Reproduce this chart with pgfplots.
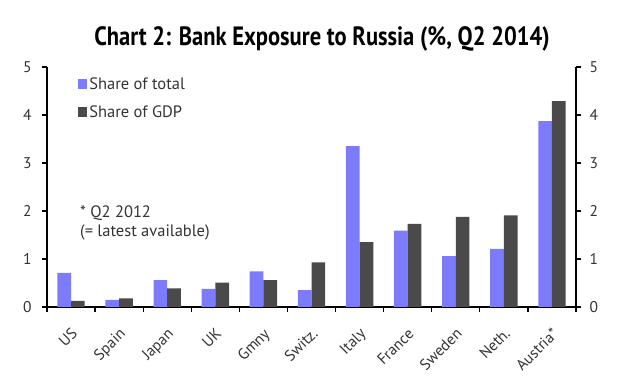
\documentclass[border=0pt]{standalone}
\usepackage{pgfplots}
\pgfplotsset{compat=1.18}
\usepackage{fontspec}
\setmainfont{PT Sans}
\newfontfamily\titlefont{PT Sans}[FakeStretch=0.85]
\definecolor{cblue}{HTML}{7C7CFA}
\definecolor{cdark}{HTML}{4A4A4A}
\begin{document}
\begin{tikzpicture}[x=1pt,y=1pt]
\path[use as bounding box] (0,0) rectangle (640,387);
\node[font=\titlefont\fontsize{26.5}{30}\selectfont\bfseries, anchor=base] at (322,341) {Chart 2: Bank Exposure to Russia (\%, Q2 2014)};
\begin{axis}[
  at={(47pt,80pt)}, anchor=south west,
  scale only axis, width=529pt, height=240pt,
  xmin=-0.5, xmax=10.5, ymin=0, ymax=5,
  ybar=0pt, bar width=13.7pt,
  axis x line*=bottom, axis y line*=left,
  axis line style={line width=1.6pt, black},
  tick align=outside,
  major tick length=5pt,
  tick style={line width=1.3pt, black},
  xtick={-0.5,0.5,...,10.5}, xticklabels={},
  extra x ticks={0,1,2,3,4,5,6,7,8,9,10},
  extra x tick labels={US,Spain,Japan,UK,Gmny,Switz.,Italy,France,Sweden,Neth.,Austria*},
  extra x tick style={tick style={draw=none}, xticklabel style={rotate=45, anchor=north east, inner sep=0pt, xshift=-11pt, yshift=-10pt}},
  ytick={0,1,2,3,4,5},
  /pgf/number format/assume math mode=true,
  ticklabel style={font=\fontsize{15.5}{17}\selectfont, text=black!80},
  yticklabel style={xshift=-7pt},
  legend style={at={(0.058,0.965)}, anchor=north west, draw=none, fill=none, inner sep=0pt,
    font=\fontsize{16.5}{19}\selectfont, row sep=11pt, text=black!80},
  legend cell align=left,
  legend image code/.code={\draw[#1,draw=none] (0pt,-4.5pt) rectangle (9.5pt,5pt);},
]
\addplot[fill=cblue, draw=none] coordinates {(0,0.71) (1,0.15) (2,0.56) (3,0.38) (4,0.74) (5,0.35) (6,3.35) (7,1.59) (8,1.06) (9,1.21) (10,3.87)};
\addplot[fill=cdark, draw=none] coordinates {(0,0.125) (1,0.18) (2,0.39) (3,0.51) (4,0.56) (5,0.93) (6,1.35) (7,1.73) (8,1.88) (9,1.91) (10,4.29)};
\legend{Share of total, Share of GDP}
\node[anchor=base west, font=\fontsize{16.5}{19}\selectfont, text=black!80] at (rel axis cs:0.056,0.372) {* Q2 2012};
\node[anchor=base west, font=\fontsize{16.5}{19}\selectfont, text=black!80] at (rel axis cs:0.056,0.293) {(= latest available)};
\end{axis}
\begin{axis}[
  at={(47pt,80pt)}, anchor=south west,
  scale only axis, width=529pt, height=240pt,
  xmin=-0.5, xmax=10.5, ymin=0, ymax=5,
  axis x line=none, axis y line*=right,
  axis line style={line width=1.6pt, black},
  tick align=outside, major tick length=5pt,
  tick style={line width=1.3pt, black},
  ytick={0,1,2,3,4,5},
  /pgf/number format/assume math mode=true,
  yticklabel style={font=\fontsize{15.5}{17}\selectfont, text=black!80, xshift=5pt},
]
\addplot[draw=none] coordinates {(0,0) (10,5)};
\end{axis}
\end{tikzpicture}
\end{document}
